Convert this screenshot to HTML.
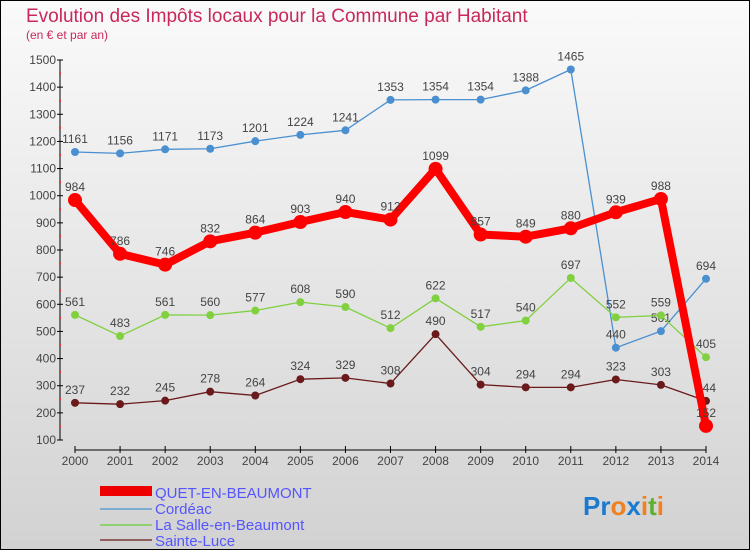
<!DOCTYPE html>
<html><head><meta charset="utf-8"><style>
body{margin:0;width:750px;height:550px;overflow:hidden;font-family:"Liberation Sans",sans-serif}
svg text{font-family:"Liberation Sans",sans-serif}
</style></head><body>
<svg id="c" width="750" height="550">
<defs><linearGradient id="bg" x1="0" y1="0" x2="0" y2="1"><stop offset="0" stop-color="#fafafa"/><stop offset="1" stop-color="#d2d2d2"/></linearGradient></defs>
<rect x="0.5" y="0.5" width="749" height="549" fill="url(#bg)" stroke="#000"/>
<text x="26" y="22" font-size="19" fill="#c8285a">Evolution des Impôts locaux pour la Commune par Habitant</text>
<text x="26" y="39" font-size="12" fill="#c8285a">(en € et par an)</text>
<g id="axes"></g><g id="series"></g>
<g>
<rect x="100" y="486" width="52" height="10" fill="#e00"/>
<text x="155" y="498" font-size="15" fill="#55f">QUET-EN-BEAUMONT</text>
<line x1="100" y1="509" x2="152" y2="509" stroke="#7aadd0" stroke-width="2"/>
<text x="155" y="514" font-size="15" fill="#55f">Cordéac</text>
<line x1="100" y1="525" x2="152" y2="525" stroke="#90d070" stroke-width="2"/>
<text x="155" y="530" font-size="15" fill="#55f">La Salle-en-Beaumont</text>
<line x1="100" y1="540" x2="152" y2="540" stroke="#906060" stroke-width="2"/>
<text x="155" y="546" font-size="15" fill="#55f">Sainte-Luce</text>
</g>
<text x="583" y="515" font-size="26" font-weight="bold"><tspan fill="#1a7ad0">Pr</tspan><tspan fill="#f08020">o</tspan><tspan fill="#1a7ad0">x</tspan><tspan fill="#f08020">i</tspan><tspan fill="#60b030">t</tspan><tspan fill="#f08020">i</tspan></text>
</svg>
<script>
const years=[2000,2001,2002,2003,2004,2005,2006,2007,2008,2009,2010,2011,2012,2013,2014];
const yTicks=[100,200,300,400,500,600,700,800,900,1000,1100,1200,1300,1400,1500];
const quet=[984,786,746,832,864,903,940,912,1099,857,849,880,939,988,152];
const cordeac=[1161,1156,1171,1173,1201,1224,1241,1353,1354,1354,1388,1465,440,501,694];
const laSalle=[561,483,561,560,577,608,590,512,622,517,540,697,552,559,405];
const sainteLuce=[237,232,245,278,264,324,329,308,490,304,294,294,323,303,244];
const NS='http://www.w3.org/2000/svg';
function X(i){return 75+i*(706-75)/(years.length-1);}
function Y(v){return 440-(v-100)*(380/1400);}
function mk(t,a,p){const e=document.createElementNS(NS,t);for(const k in a)e.setAttribute(k,a[k]);p.appendChild(e);return e;}
const ax=document.getElementById('axes');
const yl=mk('line',{x1:60,y1:Y(1500),x2:60,y2:Y(100),stroke:'#000'},ax);


yTicks.forEach(v=>{
 mk('line',{x1:57,y1:Y(v),x2:63,y2:Y(v),stroke:'#000'},ax);
 const t=mk('text',{x:56,y:Y(v)+4,'font-size':12,fill:'#444','text-anchor':'end'},ax);t.textContent=v;
 
 
 if(v<1500)mk('rect',{x:59,y:Y(v+50)-1,width:2,height:2,fill:'#e33'},ax);
});
const xl=mk('line',{x1:75,y1:450,x2:706,y2:450,stroke:'#000'},ax);


years.forEach((y,i)=>{
 mk('line',{x1:X(i),y1:446,x2:X(i),y2:453,stroke:'#000'},ax);
 const t=mk('text',{x:X(i),y:465,'font-size':12,fill:'#444','text-anchor':'middle'},ax);t.textContent=y;
 
 
});
const sg=document.getElementById('series');
function draw(vals,color,w,r,name){
 const g=mk('g',{},sg);
 
 
 mk('polyline',{points:vals.map((v,i)=>X(i)+','+Y(v)).join(' '),fill:'none',stroke:color,'stroke-width':w,'stroke-linejoin':'round'},g);
 vals.forEach((v,i)=>{
  const c=mk('circle',{cx:X(i),cy:Y(v),r:r,fill:color},g);
  
  
  const t=mk('text',{x:X(i),y:Y(v)-9,'font-size':12,fill:'#444','text-anchor':'middle'},g);t.textContent=v;
  
  
 });
}
draw(cordeac,'#4a90d0',1.3,4,'cordeac');
draw(laSalle,'#80d040',1.3,4,'la-salle');
draw(sainteLuce,'#6a1a1a',1.3,4,'sainte-luce');
draw(quet,'#f00',8,7,'quet');
</script>
</body></html>
